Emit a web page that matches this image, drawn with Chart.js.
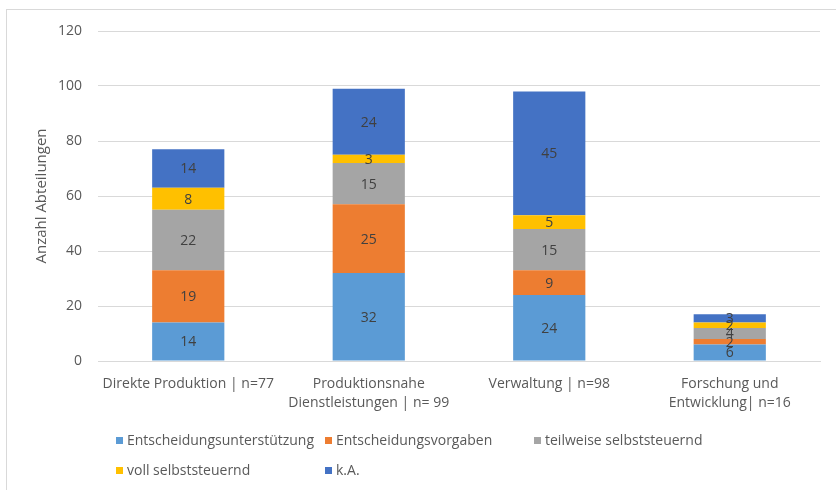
<!DOCTYPE html>
<html>
<head>
<meta charset="utf-8">
<script src="https://cdn.jsdelivr.net/npm/chart.js@4.4.0/dist/chart.umd.min.js"></script>
<style>
  html, body { margin: 0; padding: 0; background: #ffffff; }
  #wrap { position: relative; width: 836px; height: 490px; overflow: hidden; }
  #frame { position: absolute; left: 6px; top: 9px; width: 900px; height: 600px; border: 1px solid #d9d9d9; pointer-events: none; }
  canvas { position: absolute; left: 0; top: 0; }
  .lg { position: absolute; font-family: "Open Sans", sans-serif; font-size: 14px; color: #595959; white-space: nowrap; line-height: 18px; height: 18px; }
  .lg span.box { position: absolute; left: 0; top: 6px; width: 7px; height: 7px; }
  .lg span.txt { position: absolute; left: 11px; top: 0; }
</style>
</head>
<body>
<div id="wrap">
  <div id="frame"></div>
  <canvas id="c" width="836" height="490"></canvas>
  <div id="legend"></div>
</div>
<script>
const categories = [
  ["Direkte Produktion | n=77"],
  ["Produktionsnahe", "Dienstleistungen | n= 99"],
  ["Verwaltung | n=98"],
  ["Forschung und", "Entwicklung| n=16"]
];
const seriesNames = ["Entscheidungsunterstützung", "Entscheidungsvorgaben", "teilweise selbststeuernd", "voll selbststeuernd", "k.A."];
const entscheidungsunterstuetzung = [14, 32, 24, 6];
const entscheidungsvorgaben = [19, 25, 9, 2];
const teilweiseSelbststeuernd = [22, 15, 15, 4];
const vollSelbststeuernd = [8, 3, 5, 2];
const kA = [14, 24, 45, 3];
const colors = ["#5B9BD5", "#ED7D31", "#A5A5A5", "#FFC000", "#4472C4"];
const yTicks = [0, 20, 40, 60, 80, 100, 120];
const yTitle = "Anzahl Abteilungen";

const seriesData = [entscheidungsunterstuetzung, entscheidungsvorgaben, teilweiseSelbststeuernd, vollSelbststeuernd, kA];
const FONT = "'Open Sans', sans-serif";

const labelPlugin = {
  id: 'valueLabels',
  afterDatasetsDraw(chart) {
    const ctx = chart.ctx;
    ctx.save();
    ctx.font = "14px " + FONT;
    ctx.fillStyle = "#404040";
    ctx.textAlign = "center";
    ctx.textBaseline = "middle";
    chart.data.datasets.forEach((ds, i) => {
      const meta = chart.getDatasetMeta(i);
      meta.data.forEach((el, j) => {
        const p = el.getCenterPoint();
        ctx.fillText(String(ds.data[j]), p.x, p.y + 1);
      });
    });
    ctx.restore();
  }
};

const chart = new Chart(document.getElementById('c'), {
  type: 'bar',
  data: {
    labels: categories,
    datasets: seriesData.map((d, i) => ({
      label: seriesNames[i],
      data: d,
      backgroundColor: colors[i],
      borderWidth: 0,
      categoryPercentage: 1.0,
      barPercentage: 0.4
    }))
  },
  options: {
    responsive: false,
    animation: false,
    devicePixelRatio: 1,
    layout: { padding: { left: 30, right: 16, top: 31, bottom: 69 } },
    plugins: { legend: { display: false }, tooltip: { enabled: false } },
    scales: {
      x: {
        stacked: true,
        grid: { display: false, drawTicks: false },
        border: { display: true, color: '#d9d9d9', width: 1 },
        ticks: { color: '#595959', font: { family: FONT, size: 14, lineHeight: 1.38 }, padding: 13, maxRotation: 0, autoSkip: false },
        afterFit(scale) { scale.height = 60; }
      },
      y: {
        stacked: true,
        min: 0, max: 120,
        afterBuildTicks(scale) { scale.ticks = yTicks.map(v => ({ value: v })); },
        grid: { color: '#d9d9d9', lineWidth: 1, drawTicks: false },
        border: { display: false },
        ticks: { color: '#595959', font: { family: FONT, size: 14 }, padding: 16 },
        title: { display: true, text: yTitle, color: '#595959', font: { family: FONT, size: 15 }, padding: { top: 3, bottom: 0 } },
        afterFit(scale) { scale.width = 68; }
      }
    }
  },
  plugins: [labelPlugin]
});

// Legend built from dataset names/colours
const legendPos = [[116, 431], [325, 431], [534, 431], [116, 461], [325, 461]];
const lg = document.getElementById('legend');
seriesNames.forEach((n, i) => {
  const d = document.createElement('div');
  d.className = 'lg';
  d.style.left = legendPos[i][0] + 'px';
  d.style.top = legendPos[i][1] + 'px';
  d.innerHTML = '<span class="box" style="background:' + colors[i] + '"></span><span class="txt">' + n + '</span>';
  lg.appendChild(d);
});
</script>
</body>
</html>
